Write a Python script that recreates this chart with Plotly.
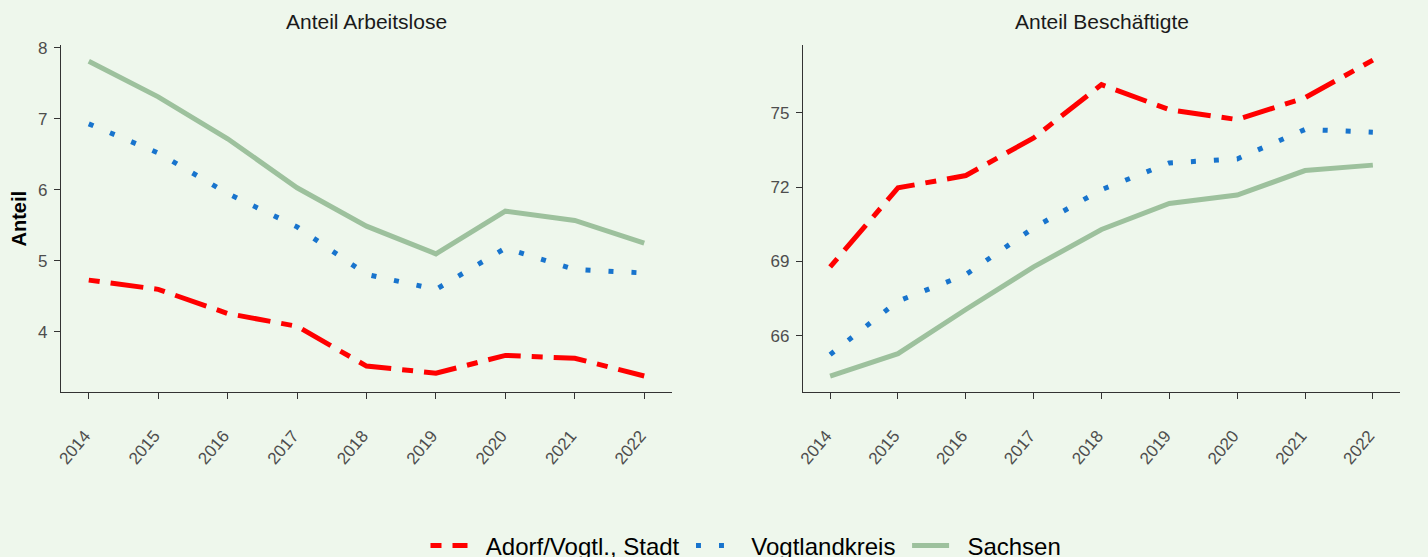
import plotly.graph_objects as go

years = [2014, 2015, 2016, 2017, 2018, 2019, 2020, 2021, 2022]
series_names = ["Adorf/Vogtl., Stadt", "Vogtlandkreis", "Sachsen"]

# Anteil Arbeitslose
arb_adorf = [4.73, 4.60, 4.26, 4.08, 3.52, 3.42, 3.67, 3.63, 3.38]
arb_vogt = [6.93, 6.52, 5.95, 5.48, 4.81, 4.60, 5.18, 4.88, 4.83]
arb_sachsen = [7.81, 7.31, 6.72, 6.03, 5.49, 5.10, 5.70, 5.57, 5.25]

# Anteil Beschäftigte
bes_adorf = [68.78, 71.97, 72.47, 73.99, 76.14, 75.13, 74.73, 75.61, 77.13]
bes_vogt = [65.24, 67.40, 68.47, 70.36, 71.90, 72.98, 73.14, 74.33, 74.22]
bes_sachsen = [64.37, 65.28, 67.06, 68.78, 70.29, 71.34, 71.68, 72.67, 72.89]

panel_titles = ["Anteil Arbeitslose", "Anteil Beschäftigte"]
left_ticks = [4, 5, 6, 7, 8]
right_ticks = [66, 69, 72, 75]

colors = ["#FF0000", "#1874CD", "#9DC19D"]
dashes = ["11px,11px,33px,11px", "5px,18px", "solid"]

W, H = 1428, 557
BG = "#EEF7EC"
PAD = "\u00a0\u00a0"  # spacing between legend symbol and label
TAIL = "\u00a0"       # spacing between legend items

fig = go.Figure()

left_data = [arb_adorf, arb_vogt, arb_sachsen]
right_data = [bes_adorf, bes_vogt, bes_sachsen]
for i, name in enumerate(series_names):
    fig.add_trace(go.Scatter(x=years, y=left_data[i], mode="lines", name=PAD + name + TAIL,
                             line=dict(color=colors[i], width=5, dash=dashes[i]),
                             xaxis="x", yaxis="y", legendgroup=name, showlegend=True))
for i, name in enumerate(series_names):
    fig.add_trace(go.Scatter(x=years, y=right_data[i], mode="lines", name=PAD + name + TAIL,
                             line=dict(color=colors[i], width=5, dash=dashes[i]),
                             xaxis="x2", yaxis="y2", legendgroup=name, showlegend=False))

def px_x(p):
    return p / W

def px_y(p):
    return (H - p) / H

ydom = [px_y(392), px_y(45)]
axis_common = dict(showgrid=False, zeroline=False, showline=True, linecolor="#333333",
                   linewidth=1.2, ticks="outside", ticklen=6, tickwidth=1.3,
                   tickcolor="#333333", tickfont=dict(size=17, color="#4D4D4D"),
                   automargin=False)
xaxis_extra = dict(range=[2013.6, 2022.4], tickvals=years, tickangle=-50,
                   ticklabelstandoff=20, ticklabelshift=-4)

fig.update_layout(
    width=W, height=H,
    paper_bgcolor=BG, plot_bgcolor=BG,
    margin=dict(l=0, r=0, t=0, b=0, autoexpand=False),
    font=dict(family="Liberation Sans, Arial, sans-serif"),
    xaxis=dict(domain=[px_x(61), px_x(672)], anchor="y", **xaxis_extra, **axis_common),
    yaxis=dict(domain=ydom, range=[3.155, 8.04], tickvals=left_ticks, anchor="x",
               ticklabelstandoff=3, **axis_common),
    xaxis2=dict(domain=[px_x(803), px_x(1400)], anchor="y2", **xaxis_extra, **axis_common),
    yaxis2=dict(domain=ydom, range=[63.73, 77.74], tickvals=right_ticks, anchor="x2",
                ticklabelstandoff=3, **axis_common),
    legend=dict(orientation="h", x=749 / W, xanchor="center", y=px_y(546), yanchor="middle",
                xref="container", yref="container",
                font=dict(size=24, color="#000000"), bgcolor="rgba(0,0,0,0)",
                itemwidth=37, tracegroupgap=0),
    showlegend=True,
)

fig.add_annotation(text=panel_titles[0], x=(px_x(61) + px_x(672)) / 2, y=px_y(22),
                   xref="paper", yref="paper", showarrow=False,
                   xanchor="center", yanchor="middle",
                   font=dict(size=21, color="#1A1A1A"))
fig.add_annotation(text=panel_titles[1], x=(px_x(803) + px_x(1400)) / 2, y=px_y(22),
                   xref="paper", yref="paper", showarrow=False,
                   xanchor="center", yanchor="middle",
                   font=dict(size=21, color="#1A1A1A"))
fig.add_annotation(text="<b>Anteil</b>", x=px_x(18), y=(ydom[0] + ydom[1]) / 2,
                   xref="paper", yref="paper", showarrow=False, textangle=-90,
                   xanchor="center", yanchor="middle",
                   font=dict(size=20, color="#000000"))

fig.write_html("out.html", config={"displayModeBar": False},
               post_script="document.body.style.margin='0';document.body.style.background='" + BG + "';")
